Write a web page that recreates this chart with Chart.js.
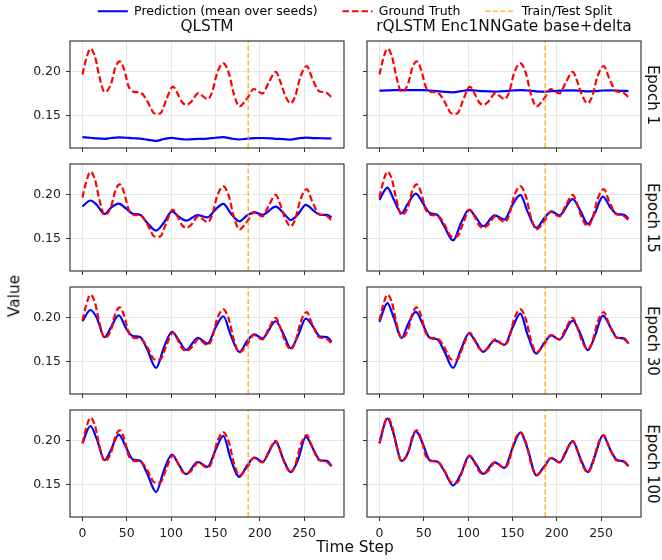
<!DOCTYPE html>
<html lang="en">
<head>
<meta charset="UTF-8">
<title>QLSTM vs rQLSTM predictions</title>
<script src="https://cdn.jsdelivr.net/npm/chart.js@4.4.0/dist/chart.umd.min.js"></script>
<style>
  body { margin: 0; background: #fff; }
  #fig { position: relative; width: 662px; height: 560px; overflow: hidden; font-family: "DejaVu Sans", sans-serif; color: #111; }
  #fig canvas { position: absolute; }
  .txt { position: absolute; white-space: nowrap; transform: translate(-50%, -50%); line-height: 1; }
</style>
</head>
<body>
<div id="fig"></div>

<script>
// ground truth
const gtSteps = [0, 4, 9, 14, 19, 25, 32, 37, 42, 47, 52, 58, 65, 71, 77, 80, 84, 88, 94, 102, 107, 112, 117, 122,
  131, 135, 141, 146, 152, 159, 165, 171, 177, 182, 188, 193, 203, 210, 218, 223, 229, 235, 240, 246, 253, 259, 267, 274, 281];
const gtValues = [0.197, 0.214, 0.2265, 0.218, 0.195, 0.177, 0.1856, 0.2045, 0.2121, 0.2027, 0.1837, 0.1773, 0.1765, 0.1705,
  0.159, 0.1535, 0.1523, 0.1527, 0.1667, 0.1833, 0.176, 0.166, 0.1625, 0.1652, 0.1758, 0.173, 0.169, 0.176, 0.1989, 0.2098,
  0.199, 0.1742, 0.1606, 0.1648, 0.1731, 0.1805, 0.1755, 0.1875, 0.200, 0.1894, 0.1723, 0.1642, 0.1723, 0.195, 0.2066,
  0.1932, 0.178, 0.1768, 0.1712];

// predictions (mean over seeds), sampled at these steps
const predSteps = [0, 9, 16, 25, 32, 41, 49, 57, 65, 73, 83, 92, 101, 108, 117, 130, 141, 150, 159, 167, 177, 186, 194,
  203, 218, 227, 235, 243, 252, 261, 268, 276, 281];

const qlstmEp1 = [0.1256, 0.1250, 0.1242, 0.1237, 0.1247, 0.1255, 0.1250, 0.1244, 0.1240, 0.1228, 0.1214, 0.1236, 0.1248,
  0.1238, 0.1230, 0.1236, 0.1240, 0.1250, 0.1256, 0.1242, 0.1230, 0.1240, 0.1246, 0.1247, 0.1238, 0.1234, 0.1229, 0.1242,
  0.1252, 0.1246, 0.1244, 0.1242, 0.1241];
const qlstmEp15 = [0.1868, 0.1936, 0.1888, 0.1782, 0.1852, 0.1900, 0.1846, 0.1784, 0.1774, 0.1682, 0.1594, 0.1685, 0.1812,
  0.1757, 0.1707, 0.1770, 0.1744, 0.1833, 0.1898, 0.1795, 0.1699, 0.1768, 0.1801, 0.1774, 0.1866, 0.1790, 0.1714, 0.1777,
  0.1887, 0.1818, 0.1774, 0.1773, 0.1744];
const qlstmEp30 = [0.1962, 0.2090, 0.2005, 0.1782, 0.1890, 0.2030, 0.1885, 0.1793, 0.1782, 0.1643, 0.1429, 0.1665, 0.1842,
  0.1756, 0.1635, 0.1774, 0.1707, 0.1887, 0.2019, 0.1812, 0.1613, 0.1740, 0.1812, 0.1767, 0.1962, 0.1810, 0.1654, 0.1793,
  0.1992, 0.1887, 0.1786, 0.1782, 0.1726];
const qlstmEp100 = [0.1977, 0.2170, 0.2026, 0.1780, 0.1894, 0.2072, 0.1932, 0.1788, 0.1773, 0.1629, 0.1417, 0.1667, 0.1845,
  0.1742, 0.1621, 0.1761, 0.1705, 0.1894, 0.2057, 0.1800, 0.1591, 0.1723, 0.1811, 0.1761, 0.1989, 0.1780, 0.1644, 0.1780,
  0.2045, 0.1894, 0.1780, 0.1773, 0.1712];

const rqlstmEp1 = [0.1786, 0.1789, 0.1792, 0.1793, 0.1792, 0.1792, 0.1793, 0.1788, 0.1780, 0.1772, 0.1767, 0.1780, 0.1793,
  0.1788, 0.1780, 0.1775, 0.1782, 0.1788, 0.1793, 0.1788, 0.1778, 0.1775, 0.1780, 0.1786, 0.1790, 0.1784, 0.1778, 0.1782,
  0.1788, 0.1790, 0.1786, 0.1784, 0.1782];
const rqlstmEp15 = [0.1944, 0.2083, 0.1950, 0.1790, 0.1900, 0.2015, 0.1906, 0.1793, 0.1774, 0.1643, 0.1481, 0.1680, 0.1831,
  0.1756, 0.1643, 0.1767, 0.1718, 0.1887, 0.2000, 0.1812, 0.1624, 0.1737, 0.1812, 0.1767, 0.1951, 0.1812, 0.1669, 0.1793,
  0.1981, 0.1850, 0.1782, 0.1774, 0.1729];
const rqlstmEp30 = [0.1955, 0.2169, 0.2005, 0.1770, 0.1925, 0.2068, 0.1925, 0.1770, 0.1756, 0.1624, 0.1429, 0.1643, 0.1823,
  0.1737, 0.1613, 0.1744, 0.1692, 0.1887, 0.2049, 0.1812, 0.1594, 0.1718, 0.1801, 0.1752, 0.1970, 0.1812, 0.1632, 0.1793,
  0.2026, 0.1887, 0.1774, 0.1767, 0.1707];
const rqlstmEp100 = [0.1975, 0.2255, 0.2080, 0.1772, 0.1860, 0.2112, 0.1965, 0.1776, 0.1765, 0.1660, 0.1492, 0.1625, 0.1830,
  0.1752, 0.1625, 0.1755, 0.1692, 0.1915, 0.2095, 0.1915, 0.1608, 0.1712, 0.1805, 0.1756, 0.1995, 0.1792, 0.1645, 0.1828,
  0.2062, 0.1888, 0.1782, 0.1766, 0.1712];

const splitStep = 187;
const xTicks = [0, 50, 100, 150, 200, 250];
const yTicks = [0.15, 0.20];
const xMin = -14.05, xMax = 295.05;
const yMin = 0.1133, yMax = 0.2352;

const modelTitles = ['QLSTM', 'rQLSTM Enc1NNGate base+delta'];
const epochLabels = ['Epoch 1', 'Epoch 15', 'Epoch 30', 'Epoch 100'];
const predGrid = [
  [qlstmEp1, rqlstmEp1],
  [qlstmEp15, rqlstmEp15],
  [qlstmEp30, rqlstmEp30],
  [qlstmEp100, rqlstmEp100]
];

// styles
const FONT = '"DejaVu Sans", sans-serif';
const predStyle = { label: 'Prediction (mean over seeds)', borderColor: '#0000ff', borderWidth: 2.2, borderDash: [] };
const gtStyle = { label: 'Ground Truth', borderColor: '#ff0000', borderWidth: 2.2, borderDash: [6.5, 3] };
const splitStyle = { label: 'Train/Test Split', borderColor: 'rgba(255,165,0,0.8)', borderWidth: 1.5, borderDash: [5, 2.5] };

// layout
const colLeft = [70, 367];
const rowTop = [41, 164, 287, 410];
const plotW = 274, plotH = 107;
const fig = document.getElementById('fig');

const framePlugin = {
  id: 'frame',
  afterDraw(chart) {
    const a = chart.chartArea, ctx = chart.ctx;
    ctx.save();
    ctx.strokeStyle = '#3a3a3a';
    ctx.lineWidth = 1.2;
    ctx.strokeRect(a.left, a.top, a.right - a.left, a.bottom - a.top);
    ctx.restore();
  }
};

function pts(xs, ys) {
  return xs.map((x, i) => ({ x: x, y: ys[i] }));
}

function noPad(s) {
  s.paddingTop = 0; s.paddingBottom = 0; s.paddingLeft = 0; s.paddingRight = 0;
}

// figure legend (drawn first so it sits under everything else)
const lg = document.createElement('canvas');
lg.width = 590; lg.height = 130;
lg.style.left = '60px'; lg.style.top = '-20px';
fig.appendChild(lg);
new Chart(lg, {
  type: 'line',
  data: {
    datasets: [
      Object.assign({ data: [] }, predStyle),
      Object.assign({ data: [] }, gtStyle),
      Object.assign({ data: [] }, splitStyle)
    ]
  },
  options: {
    responsive: false, animation: false, devicePixelRatio: 1,
    scales: { x: { display: false }, y: { display: false } },
    plugins: {
      tooltip: { enabled: false },
      legend: {
        maxHeight: 64,
        labels: {
          usePointStyle: true, pointStyleWidth: 30, padding: 25,
          color: '#222', font: { family: FONT, size: 12.5 },
          generateLabels: chart => chart.data.datasets.map((d, i) => ({
            text: d.label, datasetIndex: i, hidden: false,
            strokeStyle: d.borderColor, fillStyle: d.borderColor,
            lineWidth: d.borderWidth, lineDash: d.borderDash, pointStyle: 'line'
          }))
        }
      }
    }
  }
});

function makePanel(row, col) {
  const isLeft = col === 0, isBottom = row === 3;
  const yAxisW = isLeft ? 70 : 12;
  const xAxisH = isBottom ? 30 : 8;
  const cv = document.createElement('canvas');
  cv.width = yAxisW + plotW + 2;
  cv.height = 2 + plotH + xAxisH;
  cv.style.left = (colLeft[col] - yAxisW) + 'px';
  cv.style.top = (rowTop[row] - 2) + 'px';
  fig.appendChild(cv);

  const tickFont = { family: FONT, size: 12.5 };
  new Chart(cv, {
    type: 'line',
    data: {
      datasets: [
        Object.assign({ data: [{ x: splitStep, y: yMin }, { x: splitStep, y: yMax }], tension: 0, order: 0 }, splitStyle),
        Object.assign({ data: pts(gtSteps, gtValues), cubicInterpolationMode: 'monotone', order: 1 }, gtStyle),
        Object.assign({ data: pts(predSteps, predGrid[row][col]), cubicInterpolationMode: 'monotone', order: 2 }, predStyle)
      ]
    },
    options: {
      responsive: false, animation: false, devicePixelRatio: 1,
      layout: { padding: { top: 2, right: 2, left: 0, bottom: 0 } },
      elements: { point: { radius: 0 } },
      plugins: { legend: { display: false }, tooltip: { enabled: false } },
      scales: {
        x: {
          type: 'linear', min: xMin, max: xMax,
          afterFit: s => { s.height = xAxisH; noPad(s); },
          afterBuildTicks: s => { s.ticks = xTicks.map(v => ({ value: v })); },
          grid: { color: '#e6e6e6', lineWidth: 1, tickColor: '#333', tickLength: 4 },
          border: { display: false },
          ticks: { padding: 5, color: '#222', font: tickFont, maxRotation: 0, autoSkip: false,
            callback: v => isBottom ? String(v) : '' }
        },
        y: {
          type: 'linear', min: yMin, max: yMax,
          afterFit: s => { s.width = yAxisW; noPad(s); },
          afterBuildTicks: s => { s.ticks = yTicks.map(v => ({ value: v })); },
          grid: { color: '#e6e6e6', lineWidth: 1, tickColor: '#333', tickLength: 4 },
          border: { display: false },
          ticks: { padding: 5, color: '#222', font: tickFont, autoSkip: false,
            callback: v => isLeft ? v.toFixed(2) : '' }
        }
      }
    },
    plugins: [framePlugin]
  });
}

for (let r = 0; r < 4; r++) {
  for (let c = 0; c < 2; c++) makePanel(r, c);
}

// texts
function addText(str, x, y, size, rot) {
  const d = document.createElement('div');
  d.className = 'txt';
  d.textContent = str;
  d.style.left = x + 'px';
  d.style.top = y + 'px';
  d.style.fontSize = size + 'px';
  if (rot) d.style.transform = 'translate(-50%, -50%) rotate(' + rot + 'deg)';
  fig.appendChild(d);
}

addText(modelTitles[0], colLeft[0] + plotW / 2, 27, 15.4);
addText(modelTitles[1], colLeft[1] + plotW / 2, 27, 15.4);
epochLabels.forEach((t, i) => addText(t, 652, rowTop[i] + plotH / 2, 15, 90));
addText('Time Step', 355, 548, 15.4);
addText('Value', 15, 296, 15.4, -90);
</script>
</body>
</html>
